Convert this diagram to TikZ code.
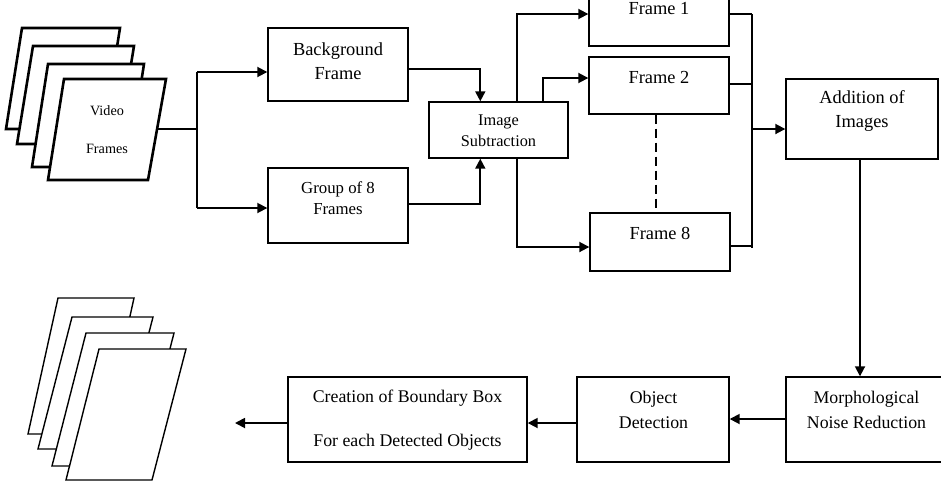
\documentclass[tikz,border=0pt]{standalone}
\usepackage{fontspec}
\setmainfont{Liberation Serif}
\usetikzlibrary{arrows.meta,calc}
\newcommand\fz[2]{\fontsize{#1}{#2}\selectfont}
\tikzset{
  box/.style={draw, line width=1.4pt, fill=white, inner sep=0pt},
  txt/.style={inner sep=0pt, align=center},
  conn/.style={line width=1.8pt},
  arr/.style={line width=1.8pt, -{Triangle[length=10pt,width=10pt]}},
  busline/.style={line width=2.6pt},
  thicksheet/.style={draw, line width=2.6pt, fill=white, line join=miter},
  thinsheet/.style={draw, line width=1.4pt, fill=white, line join=miter}
}
\begin{document}
\begin{tikzpicture}[x=1pt,y=-1pt]
\clip (0,0) rectangle (941,488);
\fill[white] (0,0) rectangle (941,488);

% video frames stack (top left)
\draw[thicksheet] (6,129) -- (22,28) -- (120,28) -- (104,129) -- cycle;
\draw[thicksheet] (17,144) -- (33,46) -- (134,46) -- (118,144) -- cycle;
\draw[thicksheet] (32,167) -- (48,64) -- (144,64) -- (128,167) -- cycle;
\draw[thicksheet] (48,180) -- (64,79) -- (166,79) -- (148,180) -- cycle;
\node[txt, font=\fz{14.2}{38}] (vf) at (107,130) {Video\\Frames};
\coordinate (vfout) at (157,129);
\coordinate (split) at (197,129);

% output stack (bottom left)
\draw[thinsheet] (28,434) -- (58,298) -- (134,298) -- (104,434) -- cycle;
\draw[thinsheet] (38,449) -- (72,317) -- (153,317) -- (119,449) -- cycle;
\draw[thinsheet] (52,466) -- (86,333) -- (174,333) -- (140,466) -- cycle;
\draw[thinsheet] (66,480) -- (99,349) -- (186,349) -- (152,480) -- cycle;
\coordinate (outend) at (235,423);

% boxes
\node[box, minimum width=140pt, minimum height=73pt] (bg) at (338,64.5) {};
\node[txt, font=\fz{18.4}{24}] (bgt) at (338,61) {Background\\Frame};
\node[box, minimum width=140pt, minimum height=75pt] (gr) at (338,205.5) {};
\node[txt, font=\fz{16.8}{21}] (grt) at (338,198.5) {Group of 8\\Frames};
\node[box, minimum width=139pt, minimum height=56pt] (is) at (498.5,130) {};
\node[txt, font=\fz{16.3}{21}] (ist) at (498.5,130.5) {Image\\Subtraction};
\node[box, minimum width=140pt, minimum height=57pt] (f1) at (659,17.5) {};
\node[txt, font=\fz{18.4}{21}] (f1t) at (659,9) {Frame 1};
\node[box, minimum width=140pt, minimum height=57pt] (f2) at (659,85.5) {};
\node[txt, font=\fz{18.4}{21}] (f2t) at (659,77) {Frame 2};
\node[box, minimum width=140pt, minimum height=58pt] (f8) at (660,242) {};
\node[txt, font=\fz{18.4}{21}] (f8t) at (660,233) {Frame 8};
\node[box, minimum width=152pt, minimum height=80pt] (add) at (862,119) {};
\node[txt, font=\fz{18.4}{24}] (addt) at (862,111) {Addition of\\Images};
\node[box, minimum width=160pt, minimum height=85pt] (mor) at (866,419.5) {};
\node[txt, font=\fz{17.8}{25}] (mort) at (866.5,409.5) {Morphological\\Noise Reduction};
\node[box, minimum width=152pt, minimum height=85pt] (obj) at (653,419.5) {};
\node[txt, font=\fz{17.8}{25}] (objt) at (653.5,409.5) {Object\\Detection};
\node[box, minimum width=239pt, minimum height=85pt] (cr) at (407.5,419.5) {};
\node[txt, font=\fz{17.8}{44}] (crt) at (407.5,420) {Creation of Boundary Box\\For each Detected Objects};

% connectors: input split
\draw[conn] (vfout) -- (split);
\draw[conn] (split |- 0,72) -- (split |- 0,208);
\draw[arr] (split |- 0,72) -- (bg.west |- 0,72);
\draw[arr] (split |- 0,208) -- (gr.west |- 0,208);

% into image subtraction
\coordinate (isin) at ($(is.north west)+(52,0)$);
\draw[arr] (bg.east |- 0,69) -| (isin);
\coordinate (isinb) at ($(is.south west)+(52,0)$);
\draw[arr] (gr.east |- 0,204) -| (isinb);

% out of image subtraction to frames
\coordinate (isa) at ($(is.north west)+(89,0)$);
\coordinate (isb) at ($(is.north west)+(115,0)$);
\coordinate (isc) at ($(is.south west)+(89,0)$);
\draw[arr] (isa) |- (f1.west |- 0,14);
\draw[arr] (isb) |- (f2.west |- 0,78);
\draw[arr] (isc) |- (f8.west |- 0,247);
\draw[line width=2.2pt, dash pattern=on 9pt off 5pt] (f2.south -| 656,0) -- (f8.north -| 656,0);

% bus to addition
\coordinate (bustop) at (752,14);
\coordinate (busbot) at (752,248);
\coordinate (busmid) at (752,129);
\draw[conn] (f1.east |- 0,14) -- (bustop);
\draw[conn] (f2.east |- 0,84) -- (752,84);
\draw[conn] (f8.east |- 0,246) -- (752,246);
\draw[busline] (bustop) -- (busbot);
\draw[arr] (busmid) -- (add.west |- busmid);

% right column and bottom row
\draw[arr] (add.south -| 860,0) -- (mor.north -| 860,0);
\draw[arr] (mor.west |- 0,419) -- (obj.east |- 0,419);
\draw[arr] (obj.west |- 0,423) -- (cr.east |- 0,423);
\draw[arr] (cr.west |- 0,423) -- (outend);
\end{tikzpicture}
\end{document}
